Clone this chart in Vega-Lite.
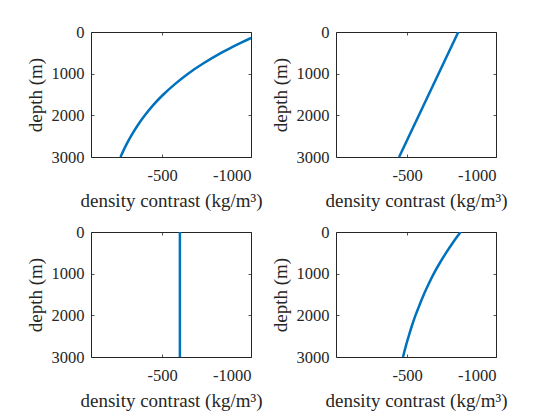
{
  "$schema": "https://vega.github.io/schema/vega-lite/v6.json",
  "background": "white",
  "padding": {"left": 25, "top": 23, "right": 5, "bottom": 5},
  "data": {
    "values": [
      {"depth": 100, "rA": -1025},
      {"depth": 150, "rA": -998},
      {"depth": 250, "rA": -948},
      {"depth": 375, "rA": -888},
      {"depth": 500, "rA": -832},
      {"depth": 750, "rA": -733},
      {"depth": 1000, "rA": -646},
      {"depth": 1250, "rA": -572},
      {"depth": 1500, "rA": -507},
      {"depth": 1750, "rA": -451},
      {"depth": 2000, "rA": -403},
      {"depth": 2250, "rA": -361},
      {"depth": 2500, "rA": -325},
      {"depth": 2750, "rA": -293},
      {"depth": 3000, "rA": -266},
      {"depth": 0, "rB": -788},
      {"depth": 3000, "rB": -455},
      {"depth": 0, "rC": -600},
      {"depth": 3000, "rC": -600},
      {"depth": 0, "rD": -801},
      {"depth": 250, "rD": -758},
      {"depth": 500, "rD": -719},
      {"depth": 750, "rD": -683},
      {"depth": 1000, "rD": -650},
      {"depth": 1250, "rD": -621},
      {"depth": 1500, "rD": -594},
      {"depth": 1750, "rD": -570},
      {"depth": 2000, "rD": -547},
      {"depth": 2250, "rD": -527},
      {"depth": 2500, "rD": -509},
      {"depth": 2750, "rD": -492},
      {"depth": 3000, "rD": -477}
    ]
  },
  "repeat": ["rA", "rB", "rC", "rD"],
  "columns": 2,
  "spacing": {"row": 75, "column": 85},
  "bounds": "flush",
  "spec": {
    "width": 160,
    "height": 125,
    "layer": [
      {
        "mark": {"type": "line", "color": "#0072BD", "strokeWidth": 2.5, "clip": true, "interpolate": "catmull-rom", "invalid": "filter"},
        "encoding": {
          "x": {
            "field": {"repeat": "repeat"},
            "type": "quantitative",
            "scale": {"domain": [-1000, -100], "reverse": true, "nice": false, "zero": false},
            "axis": {
              "orient": "bottom",
              "values": [-500, -1000],
              "labelExpr": "'' + datum.value",
              "title": "density contrast (kg/m³)",
              "titleBaseline": "alphabetic",
              "titleY": 49,
              "tickSize": -3,
              "labelPadding": 13,
              "domain": false
            }
          },
          "y": {
            "field": "depth",
            "type": "quantitative",
            "scale": {"domain": [0, 3000], "reverse": true, "nice": false, "zero": false},
            "axis": {
              "orient": "left",
              "values": [0, 1000, 2000, 3000],
              "format": "d",
              "title": "depth (m)",
              "titleBaseline": "alphabetic",
              "titleX": -50,
              "tickSize": -3,
              "labelPadding": 10,
              "domain": false
            }
          },
          "order": {"field": "depth", "type": "quantitative"}
        }
      },
      {
        "mark": {"type": "line", "opacity": 0, "invalid": "filter"},
        "encoding": {
          "x": {
            "field": {"repeat": "repeat"},
            "type": "quantitative",
            "scale": {"domain": [-1000, -100], "reverse": true, "nice": false, "zero": false},
            "axis": {
              "orient": "top",
              "values": [-500, -1000],
              "labels": false,
              "title": null,
              "tickSize": -3,
              "domain": false
            }
          },
          "y": {
            "field": "depth",
            "type": "quantitative",
            "scale": {"domain": [0, 3000], "reverse": true, "nice": false, "zero": false},
            "axis": {
              "orient": "right",
              "values": [0, 1000, 2000, 3000],
              "labels": false,
              "title": null,
              "tickSize": -3,
              "domain": false
            }
          },
          "order": {"field": "depth", "type": "quantitative"}
        }
      }
    ]
  },
  "config": {
    "font": "Liberation Serif, 'Times New Roman', 'DejaVu Serif', serif",
    "view": {"stroke": "#262626", "strokeWidth": 1},
    "axis": {
      "grid": false,
      "labelFont": "Liberation Serif, 'Times New Roman', 'DejaVu Serif', serif",
      "labelFontSize": 16.5,
      "labelColor": "#262626",
      "titleFont": "Liberation Serif, 'Times New Roman', 'DejaVu Serif', serif",
      "titleFontSize": 19,
      "titleFontWeight": "normal",
      "titleColor": "#262626",
      "tickColor": "#262626",
      "tickWidth": 0.8
    }
  }
}
